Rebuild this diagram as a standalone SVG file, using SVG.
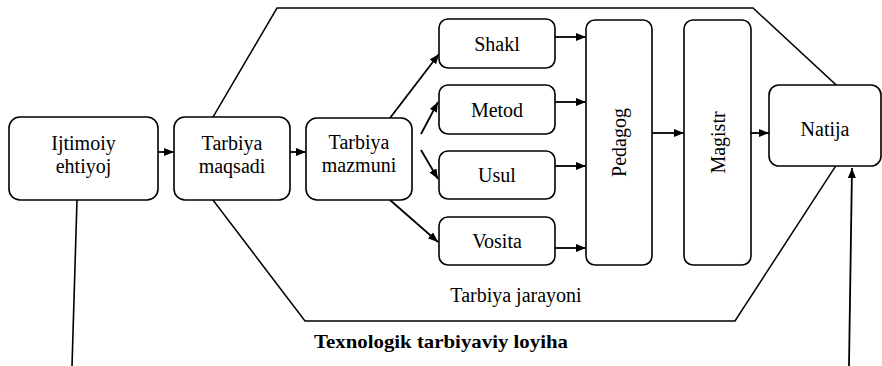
<svg xmlns="http://www.w3.org/2000/svg" width="882" height="366" viewBox="0 0 882 366">
<style>
.box{fill:#fff;stroke:#000;stroke-width:1.6}
.hex{fill:none;stroke:#000;stroke-width:1.5}
.t{font-family:"Liberation Serif","Times New Roman",serif;font-size:20px;fill:#000;text-anchor:middle}
.b{font-family:"Liberation Serif","Times New Roman",serif;font-size:19px;font-weight:bold;fill:#000;text-anchor:middle}
.c{stroke:#000;stroke-width:1.8;fill:none;marker-end:url(#ah)}
.ln{stroke:#000;stroke-width:1.6;fill:none}
</style>
<defs>
<marker id="ah" markerUnits="userSpaceOnUse" markerWidth="11" markerHeight="9" refX="10" refY="4" orient="auto">
<path d="M0,0 L10,4 L0,8 z" fill="#000"/>
</marker>
</defs>
<rect width="882" height="366" fill="#fff"/>
<g id="frame">
<polygon class="hex" points="277,8 753,8 868.7,115.2 735,321 305,321 185.5,163.9"/>
<text class="t" x="516" y="302" font-size="21">Tarbiya jarayoni</text>
<text class="b" x="441" y="348" textLength="254" lengthAdjust="spacingAndGlyphs">Texnologik tarbiyaviy loyiha</text>
</g>
<g id="connectors">
<line class="ln" x1="77" y1="200" x2="72" y2="366"/>
<line class="c" x1="849" y1="366" x2="852" y2="168"/>
<line class="c" x1="158" y1="152" x2="174" y2="152"/>
<line class="c" x1="290" y1="152" x2="306" y2="152"/>
<line class="c" x1="390" y1="118" x2="439" y2="54"/>
<line class="c" x1="421" y1="134" x2="438" y2="102"/>
<line class="c" x1="421" y1="150" x2="438" y2="179"/>
<line class="c" x1="390" y1="200" x2="438" y2="242"/>
<line class="c" x1="555" y1="37" x2="586" y2="37"/>
<line class="c" x1="555" y1="102" x2="586" y2="102"/>
<line class="c" x1="555" y1="166" x2="586" y2="166"/>
<line class="c" x1="555" y1="248" x2="586" y2="248"/>
<line class="c" x1="652" y1="133" x2="684" y2="133"/>
<line class="c" x1="751" y1="133" x2="769" y2="133"/>
</g>
<g id="ijtimoiy">
<rect class="box" x="9" y="117" width="149" height="83" rx="11"/>
<text class="t" x="83.5" y="150">Ijtimoiy</text>
<text class="t" x="83.5" y="173">ehtiyoj</text>
</g>
<g id="maqsadi">
<rect class="box" x="174" y="117" width="116" height="83" rx="11"/>
<text class="t" x="232" y="150">Tarbiya</text>
<text class="t" x="232" y="173">maqsadi</text>
</g>
<g id="mazmuni">
<rect class="box" x="306" y="118" width="106" height="82" rx="11"/>
<text class="t" x="359" y="149">Tarbiya</text>
<text class="t" x="359" y="172">mazmuni</text>
</g>
<g id="shakl">
<rect class="box" x="439" y="19" width="116" height="49" rx="9"/>
<text class="t" font-size="21" x="497" y="51">Shakl</text>
</g>
<g id="metod">
<rect class="box" x="439" y="85" width="116" height="49" rx="9"/>
<text class="t" font-size="21" x="497" y="117">Metod</text>
</g>
<g id="usul">
<rect class="box" x="439" y="151" width="116" height="48" rx="9"/>
<text class="t" font-size="21" x="497" y="182">Usul</text>
</g>
<g id="vosita">
<rect class="box" x="439" y="217" width="116" height="48" rx="9"/>
<text class="t" font-size="21" x="497" y="248">Vosita</text>
</g>
<g id="pedagog">
<rect class="box" x="586" y="20" width="66" height="245" rx="9"/>
<text class="t" font-size="22" transform="translate(626,142.5) rotate(-90)" x="0" y="0">Pedagog</text>
</g>
<g id="magistr">
<rect class="box" x="684" y="20" width="67" height="245" rx="9"/>
<text class="t" font-size="22" transform="translate(724.5,142.5) rotate(-90)" x="0" y="0">Magistr</text>
</g>
<g id="natija">
<rect class="box" x="769" y="85" width="112" height="81" rx="10"/>
<text class="t" font-size="22" x="825" y="136">Natija</text>
</g>
</svg>
